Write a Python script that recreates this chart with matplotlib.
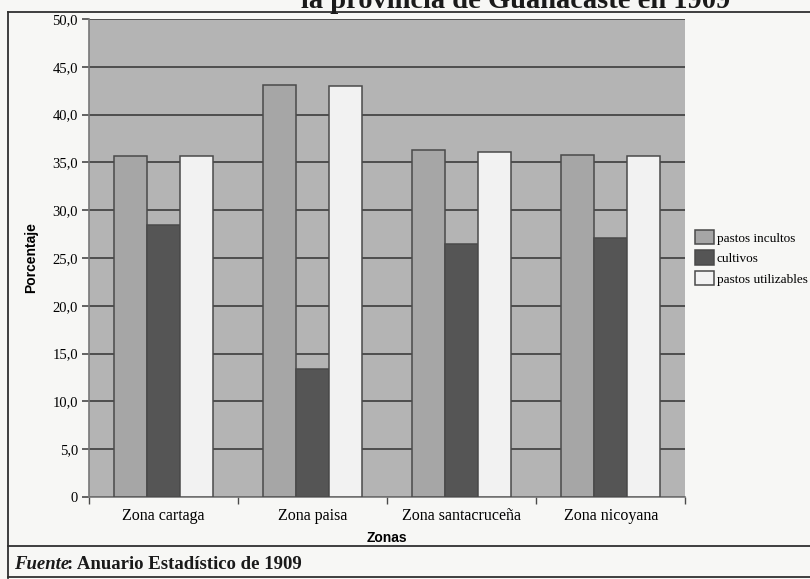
import numpy as np
import matplotlib
matplotlib.use('Agg')
import matplotlib.pyplot as plt
from matplotlib.lines import Line2D

zonas = ['Zona cartaga', 'Zona paisa', 'Zona santacruceña', 'Zona nicoyana']
pastos_incultos = [35.7, 43.1, 36.3, 35.8]
cultivos = [28.4, 13.4, 26.5, 27.1]
pastos_utilizables = [35.7, 43.0, 36.1, 35.7]
y_ticks = [0, 5, 10, 15, 20, 25, 30, 35, 40, 45, 50]
y_tick_labels = ['0'] + ['%.1f' % t for t in y_ticks[1:]]
y_tick_labels = [s.replace('.', ',') for s in y_tick_labels]

serif = 'Liberation Serif'
sans = 'Liberation Sans'
edge = '#4a4a4a'

fig = plt.figure(figsize=(8.1, 5.79), dpi=100, facecolor='#f7f7f5')
ax = fig.add_axes([0.110, 0.1416, 0.736, 0.8256])
ax.set_facecolor('#b4b4b4')

x = np.arange(len(zonas))
w = 0.222
ax.bar(x - w, pastos_incultos, w, color='#a6a6a6', edgecolor=edge, linewidth=1.1,
       label='pastos incultos', zorder=3)
ax.bar(x, cultivos, w, color='#555555', edgecolor=edge, linewidth=1.1,
       label='cultivos', zorder=3)
ax.bar(x + w, pastos_utilizables, w, color='#f2f2f2', edgecolor=edge, linewidth=1.1,
       label='pastos utilizables', zorder=3)

ax.set_xlim(-0.5, len(zonas) - 0.5)
ax.set_ylim(0, 50)
ax.set_yticks(y_ticks)
ax.set_yticklabels(y_tick_labels, fontfamily=serif, fontsize=10.5)
ax.set_xticks(x)
ax.set_xticklabels(zonas, fontfamily=serif, fontsize=11.5)
ax.set_xticks(np.arange(len(zonas) + 1) - 0.5, minor=True)
ax.tick_params(axis='x', which='major', length=0, pad=8)
ax.tick_params(axis='x', which='minor', length=5, color=edge, width=1)
ax.tick_params(axis='y', length=5, color=edge, width=1.2, pad=3)
ax.yaxis.grid(True, color='#4e4e4e', linewidth=1.4, zorder=1)
ax.set_axisbelow(True)
for s in ['top', 'right']:
    ax.spines[s].set_visible(False)
for s in ['left', 'bottom']:
    ax.spines[s].set_color('#777777')
    ax.spines[s].set_linewidth(1.2)

ax.set_ylabel('Porcentaje', fontfamily=sans, fontweight='bold', fontsize=10, labelpad=10)
ax.set_xlabel('Zonas', fontfamily=sans, fontweight='bold', fontsize=10, labelpad=5)

fig.legend(loc='upper left', bbox_to_anchor=(0.852, 0.612), frameon=False,
           prop={'family': serif, 'size': 9.5}, handlelength=1.4, handleheight=1.3,
           handletextpad=0.2, labelspacing=0.45, borderaxespad=0)

# frame lines around the figure and the source note
frame = dict(color='#303030', linewidth=1.3, transform=fig.transFigure)
fig.add_artist(Line2D([0.010, 1.0], [0.979, 0.979], **frame))
fig.add_artist(Line2D([0.010, 0.010], [0.002, 0.979], **frame))
fig.add_artist(Line2D([0.010, 1.0], [0.057, 0.057], **frame))
fig.add_artist(Line2D([0.010, 1.0], [0.003, 0.003], **frame))

# heading, only its lower half falls inside the page
fig.text(0.902, 0.986, 'la provincia de Guanacaste en 1909', ha='right', va='baseline',
         fontfamily=serif, fontweight='bold', fontsize=20.5, color='#1a1a1a')
fig.text(0.017, 0.018, 'Fuente', ha='left', va='baseline', fontfamily=serif,
         fontweight='bold', fontstyle='italic', fontsize=13.5, color='#1a1a1a')
fig.text(0.083, 0.018, ': Anuario Estadístico de 1909', ha='left', va='baseline',
         fontfamily=serif, fontweight='bold', fontsize=13.5, color='#1a1a1a')

fig.savefig('out.png', dpi=100, facecolor=fig.get_facecolor())
